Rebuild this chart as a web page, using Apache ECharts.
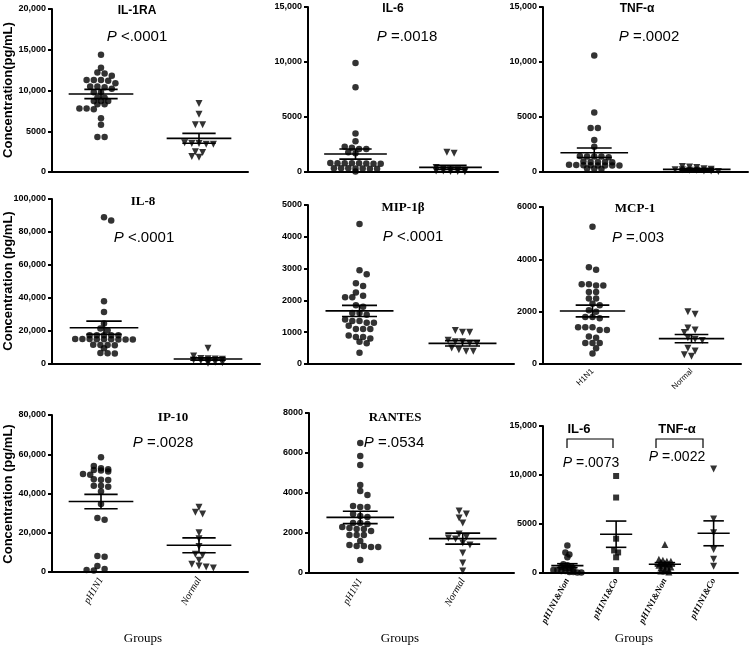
<!DOCTYPE html>
<html><head><meta charset="utf-8">
<script src="https://cdn.jsdelivr.net/npm/echarts@6/dist/echarts.min.js"></script>
<style>html,body{margin:0;padding:0;background:#fff}#c{width:750px;height:647px}</style>
</head><body><div id="c"></div>
<script>
// ---------- categories ----------
const cats2 = ['pH1N1', 'Normal'];
const catsMCP = ['H1N1', 'Normal'];
const catsCombo = ['pH1N1&Non', 'pH1N1&Co', 'pH1N1&Non', 'pH1N1&Co'];

// ---------- y tick values ----------
const il1ra_ticks = [0, 5000, 10000, 15000, 20000];
const il6_ticks = [0, 5000, 10000, 15000];
const tnf_ticks = [0, 5000, 10000, 15000];
const il8_ticks = [0, 20000, 40000, 60000, 80000, 100000];
const mip_ticks = [0, 1000, 2000, 3000, 4000, 5000];
const mcp_ticks = [0, 2000, 4000, 6000];
const ip10_ticks = [0, 20000, 40000, 60000, 80000];
const rantes_ticks = [0, 2000, 4000, 6000, 8000];
const combo_ticks = [0, 5000, 10000, 15000];

// ---------- values (pg/mL) ----------
const il1ra_pH1N1 = [14400, 12800, 12100, 12200, 11800, 11300, 11300, 11300, 11200, 10900, 10500, 10500, 10400, 10200, 9800, 9800, 9100, 9100, 8700, 8700, 8700, 8300, 8300, 7800, 7800, 7700, 6600, 5800, 4300, 4300];
const il1ra_Normal = [8400, 7100, 5800, 5800, 3600, 3500, 3500, 3400, 3400, 2500, 2400, 1900, 1800];
const il1ra_stats = [[9570, 570], [4130, 610]];

const il6_pH1N1 = [9900, 7700, 3500, 2800, 2300, 2200, 2100, 2100, 1800, 1700, 800, 800, 750, 800, 780, 820, 800, 760, 350, 300, 320, 330, 300, 340, 310, 50];
const il6_Normal = [1800, 1700, 400, 300, 200, 200, 150, 100, 100, 50, 50, 30];
const il6_stats = [[1630, 455], [420, 180]];

const tnf_pH1N1 = [10600, 5400, 4000, 4000, 2900, 2300, 1400, 1400, 1450, 1400, 1350, 900, 950, 900, 920, 880, 600, 620, 650, 600, 580, 640, 600, 610, 300, 320, 280];
const tnf_Normal = [500, 450, 400, 300, 250, 200, 200, 150, 150, 100, 100, 50];
const tnf_stats = [[1750, 435], [240, 70]];

const il8_pH1N1 = [89000, 87000, 38000, 31500, 24500, 21500, 20500, 17500, 17500, 17500, 17500, 17500, 15000, 15100, 14900, 15000, 15200, 14800, 15000, 15100, 14900, 11500, 11600, 11400, 11500, 9500, 6500, 6600, 6400];
const il8_Normal = [9500, 4800, 3300, 3200, 3000, 2900, 2500, 2000, 1500, 1000, 800, 500];
const il8_stats = [[22000, 4000], [3000, 750]];

const mip_pH1N1 = [4400, 2950, 2820, 2540, 2450, 2250, 2100, 2100, 2150, 1850, 1800, 1600, 1600, 1550, 1400, 1350, 1350, 1300, 1300, 1200, 1100, 1100, 1100, 900, 850, 850, 800, 700, 650, 350];
const mip_Normal = [1050, 1000, 1000, 750, 700, 700, 650, 650, 500, 450, 400, 400];
const mip_stats = [[1670, 175], [650, 85]];

const mcp_H1N1 = [5250, 3700, 3600, 3050, 3000, 3000, 3050, 2750, 2750, 2500, 2500, 2300, 2250, 2050, 2000, 1800, 1750, 1800, 1400, 1400, 1400, 1300, 1300, 1050, 1000, 800, 800, 800, 600, 400];
const mcp_Normal = [2000, 1900, 1380, 1300, 1200, 1000, 950, 900, 600, 500, 350, 300];
const mcp_stats = [[2025, 225], [970, 160]];

const ip10_pH1N1 = [58500, 54000, 52900, 52400, 52000, 51700, 51200, 50000, 49500, 47300, 47000, 46900, 44000, 43900, 43500, 41000, 34700, 27500, 26600, 8200, 7800, 3000, 1500, 1000, 800];
const ip10_Normal = [33000, 30500, 29500, 20000, 17000, 13000, 9000, 8500, 6000, 4000, 3000, 2500, 2000];
const ip10_stats = [[35900, 3650], [13600, 3800]];

const rantes_pH1N1 = [6500, 5850, 5400, 4400, 4100, 3900, 3350, 3300, 3300, 2950, 2850, 2800, 2500, 2500, 2450, 2300, 2250, 2200, 2200, 2100, 1900, 1900, 1900, 1600, 1400, 1350, 1350, 1300, 1300, 650];
const rantes_Normal = [3100, 2950, 2750, 2500, 1950, 1800, 1750, 1700, 1500, 1400, 1000, 500, 100];
const rantes_stats = [[2780, 310], [1720, 275]];

const il6_Non = [2800, 2100, 1900, 1600, 900, 800, 700, 600, 500, 500, 400, 300, 300, 200, 200, 100, 100, 50, 50];
const il6_Co = [9900, 7700, 3500, 2300, 2100, 1600, 300];
const tnf_Non = [2900, 1400, 1300, 1200, 1200, 1100, 1000, 900, 800, 800, 700, 600, 500, 400, 300, 200, 200, 100];
const tnf_Co = [10600, 5500, 4100, 2400, 1400, 700];
const combo_stats = [[750, 200], [3960, 1340], [890, 170], [4050, 1270]];

// ---------- layout / style ----------
const SANS = '"Liberation Sans", Arial, sans-serif';
const SERIF = '"Liberation Serif", "Times New Roman", serif';

const panels = [
  {vals: [il1ra_pH1N1, il1ra_Normal], stats: il1ra_stats, ticks: il1ra_ticks, cats: cats2, syms: ['circle', 'down'], grid: {left: 52, top: 9, width: 196, height: 163}, lab: null},
  {vals: [il6_pH1N1, il6_Normal], stats: il6_stats, ticks: il6_ticks, cats: cats2, syms: ['circle', 'down'], grid: {left: 308, top: 7, width: 190, height: 165}, lab: null},
  {vals: [tnf_pH1N1, tnf_Normal], stats: tnf_stats, ticks: tnf_ticks, cats: cats2, syms: ['circle', 'down'], grid: {left: 543, top: 7, width: 205, height: 165}, lab: null},
  {vals: [il8_pH1N1, il8_Normal], stats: il8_stats, ticks: il8_ticks, cats: cats2, syms: ['circle', 'down'], grid: {left: 52, top: 199, width: 208, height: 165}, lab: null},
  {vals: [mip_pH1N1, mip_Normal], stats: mip_stats, ticks: mip_ticks, cats: cats2, syms: ['circle', 'down'], grid: {left: 308, top: 205, width: 206, height: 159}, lab: null},
  {vals: [mcp_H1N1, mcp_Normal], stats: mcp_stats, ticks: mcp_ticks, cats: catsMCP, syms: ['circle', 'down'], grid: {left: 543, top: 207, width: 198, height: 157}, lab: {rotate: 45, fontSize: 8, fontFamily: SANS, fontStyle: 'normal', fontWeight: 'normal', margin: 6}},
  {vals: [ip10_pH1N1, ip10_Normal], stats: ip10_stats, ticks: ip10_ticks, cats: cats2, syms: ['circle', 'down'], grid: {left: 52, top: 415, width: 196, height: 157}, lab: {rotate: 60, fontSize: 10, fontFamily: SERIF, fontStyle: 'italic', fontWeight: 'normal', margin: 6}},
  {vals: [rantes_pH1N1, rantes_Normal], stats: rantes_stats, ticks: rantes_ticks, cats: cats2, syms: ['circle', 'down'], grid: {left: 309, top: 413, width: 205, height: 160}, lab: {rotate: 60, fontSize: 10, fontFamily: SERIF, fontStyle: 'italic', fontWeight: 'normal', margin: 6}},
  {vals: [il6_Non, il6_Co, tnf_Non, tnf_Co], stats: combo_stats, ticks: combo_ticks, cats: catsCombo, syms: ['circle', 'rect', 'triangle', 'down'], grid: {left: 543, top: 426, width: 195, height: 147}, lab: {rotate: 62, fontSize: 9, fontFamily: SERIF, fontStyle: 'italic', fontWeight: 'bold', margin: 6}, sp: 4, rowH: 2.6, semHalf: 0.21, loose: true}
];

function fmt(v) {
  if (v >= 10000) return String(v).replace(/\B(?=(\d{3})+(?!\d))/g, ',');
  return String(v);
}

// Prism-style row layout: values close in pixel height share a row, centred on the group,
// rows shifted sideways by half steps when they would overlap the rows above
function rowsLayout(vals, g, pxPerVal, pxPerUnit, sp, rowH, loose) {
  const sorted = vals.slice().sort((a, b) => b - a);
  const rows = [];
  sorted.forEach(v => {
    const y = v * pxPerVal;
    const r = rows[rows.length - 1];
    if (r && r.y0 - y < rowH) r.items.push(v); else rows.push({y0: y, items: [v]});
  });
  const placed = [], out = [];
  const lim = loose ? 0 : sp * 0.78;
  const shifts = [0, 0.5, -0.5, 1, -1, 1.5, -1.5, 2, -2];
  rows.forEach(r => {
    const m = r.items.length;
    let best = 0;
    for (const s of shifts) {
      const off = s * sp;
      const ok = r.items.every((v, j) => {
        const x = (j - (m - 1) / 2) * sp + off, y = v * pxPerVal;
        return placed.every(p => (p.x - x) * (p.x - x) + (p.y - y) * (p.y - y) >= lim * lim);
      });
      if (ok) { best = off; break; }
    }
    r.items.forEach((v, j) => {
      const x = (j - (m - 1) / 2) * sp + best;
      placed.push({x: x, y: v * pxPerVal});
      out.push([g + x / pxPerUnit, v]);
    });
  });
  return out;
}

const grids = [], xAxes = [], yAxes = [], series = [];
panels.forEach((p, i) => {
  const n = p.cats.length;
  const yMin = p.ticks[0], yMax = p.ticks[p.ticks.length - 1], yInt = p.ticks[1] - p.ticks[0];
  grids.push(Object.assign({containLabel: false}, p.grid));
  xAxes.push({
    type: 'category', gridIndex: i, data: p.cats, boundaryGap: true,
    axisLine: {onZero: false, lineStyle: {color: '#000', width: 2}},
    axisTick: {alignWithLabel: true, length: 4, lineStyle: {color: '#000', width: 2}},
    axisLabel: p.lab ? Object.assign({show: true, interval: 0, color: '#000'}, p.lab) : {show: false},
    splitLine: {show: false}
  });
  xAxes.push({type: 'value', gridIndex: i, min: -0.5, max: n - 0.5, show: false, axisLine: {onZero: false}});
  yAxes.push({
    type: 'value', gridIndex: i, min: yMin, max: yMax, interval: yInt, position: 'left',
    axisLine: {show: true, onZero: false, lineStyle: {color: '#000', width: 2}},
    axisTick: {show: true, length: 4, lineStyle: {color: '#000', width: 2}},
    axisLabel: {fontSize: 9, fontWeight: 'bold', fontFamily: SANS, color: '#000', margin: 6, formatter: fmt},
    splitLine: {show: false}
  });
  const pxPerVal = p.grid.height / (yMax - yMin);
  const pxPerUnit = p.grid.width / n;
  const sp = p.sp || 7.2, rowH = p.rowH || 3.2;
  p.vals.forEach((vals, g) => {
    const s = p.syms[g];
    series.push({
      type: 'scatter', xAxisIndex: 2 * i + 1, yAxisIndex: i,
      symbol: s === 'down' ? 'triangle' : s,
      symbolRotate: s === 'down' ? 180 : 0,
      symbolSize: s === 'circle' ? 6.5 : (s === 'rect' ? 6 : 7),
      itemStyle: {color: '#000'},
      clip: false, silent: true, z: 2,
      data: rowsLayout(vals, g, pxPerVal, pxPerUnit, sp, rowH, p.loose)
    });
  });
  const mh = 0.33, sh = p.semHalf || 0.17;
  series.push({
    type: 'custom', xAxisIndex: 2 * i + 1, yAxisIndex: i, z: 5, silent: true, clip: false,
    encode: {x: 0, y: 1},
    data: p.stats.map((st, g) => [g, st[0], st[1]]),
    renderItem: function (params, api) {
      const g = api.value(0), m = api.value(1), s = api.value(2);
      const L = api.coord([g - mh, m]), R = api.coord([g + mh, m]);
      const T = api.coord([g, m + s]), B = api.coord([g, m - s]);
      const tl = api.coord([g - sh, m + s]), tr = api.coord([g + sh, m + s]);
      const bl = api.coord([g - sh, m - s]), br = api.coord([g + sh, m - s]);
      const st = {stroke: '#000', lineWidth: 1.6};
      return {type: 'group', children: [
        {type: 'line', shape: {x1: L[0], y1: L[1], x2: R[0], y2: R[1]}, style: st},
        {type: 'line', shape: {x1: T[0], y1: T[1], x2: B[0], y2: B[1]}, style: st},
        {type: 'line', shape: {x1: tl[0], y1: tl[1], x2: tr[0], y2: tr[1]}, style: st},
        {type: 'line', shape: {x1: bl[0], y1: bl[1], x2: br[0], y2: br[1]}, style: st}
      ]};
    }
  });
});

function txt(x, y, text, size, family, weight, extra) {
  return Object.assign({type: 'text', x: x, y: y, z: 10, silent: true, style: {
    text: text, fontSize: size, fontFamily: family, fontWeight: weight || 'normal', fill: '#000',
    align: 'center', verticalAlign: 'middle', textAlign: 'center', textVerticalAlign: 'middle'
  }}, extra || {});
}
function ptxt(x, y, rest, size) {
  const t = txt(x, y, '{i|P}{n| ' + rest + '}', size, SANS, 'normal');
  t.style.rich = {
    i: {fontStyle: 'italic', fontSize: size, fontFamily: SANS, fill: '#000'},
    n: {fontSize: size, fontFamily: SANS, fill: '#000'}
  };
  return t;
}

const graphics = [
  txt(137, 11, 'IL-1RA', 12, SANS, 'bold'),
  ptxt(137, 37, '<.0001', 15),
  txt(393, 9, 'IL-6', 12, SANS, 'bold'),
  ptxt(407, 37, '=.0018', 15),
  txt(637, 9, 'TNF-α', 12, SANS, 'bold'),
  ptxt(649, 37, '=.0002', 15),
  txt(143, 202, 'IL-8', 13, SERIF, 'bold'),
  ptxt(144, 238, '<.0001', 15),
  txt(403, 208, 'MIP-1β', 13, SERIF, 'bold'),
  ptxt(413, 237, '<.0001', 15),
  txt(635, 209, 'MCP-1', 13, SERIF, 'bold'),
  ptxt(638, 238, '=.003', 15),
  txt(173, 418, 'IP-10', 13, SERIF, 'bold'),
  ptxt(163, 443, '=.0028', 15),
  txt(395, 418, 'RANTES', 13, SERIF, 'bold'),
  ptxt(394, 443, '=.0534', 15),
  txt(579, 429, 'IL-6', 13, SANS, 'bold'),
  txt(677, 429, 'TNF-α', 13, SANS, 'bold'),
  ptxt(591, 463, '=.0073', 14),
  ptxt(677, 457, '=.0022', 14),
  {type: 'polyline', z: 10, silent: true, shape: {points: [[567, 448], [567, 439], [613, 439], [613, 448]]}, style: {stroke: '#000', lineWidth: 1.2, fill: null}},
  {type: 'polyline', z: 10, silent: true, shape: {points: [[656, 448], [656, 439], [703, 439], [703, 448]]}, style: {stroke: '#000', lineWidth: 1.2, fill: null}},
  txt(8, 90, 'Concentration(pg/mL)', 13, SANS, 'bold', {rotation: Math.PI / 2}),
  txt(8, 281, 'Concentration (pg/mL)', 13, SANS, 'bold', {rotation: Math.PI / 2}),
  txt(8, 494, 'Concentration (pg/mL)', 13, SANS, 'bold', {rotation: Math.PI / 2}),
  txt(143, 639, 'Groups', 13, SERIF, 'normal'),
  txt(400, 639, 'Groups', 13, SERIF, 'normal'),
  txt(634, 639, 'Groups', 13, SERIF, 'normal')
];

const chart = echarts.init(document.getElementById('c'), null, {renderer: 'canvas'});
chart.setOption({
  backgroundColor: '#fff',
  animation: false,
  grid: grids,
  xAxis: xAxes,
  yAxis: yAxes,
  series: series,
  graphic: graphics
});
</script>
</body></html>
